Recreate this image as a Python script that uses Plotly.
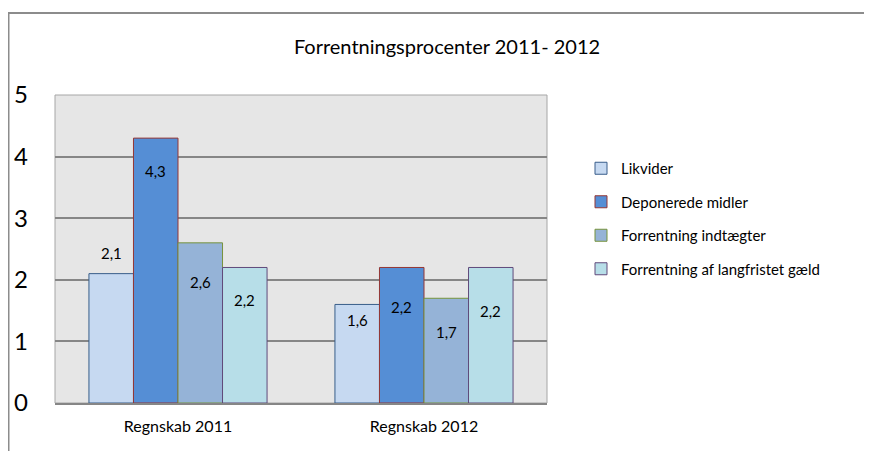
import plotly.graph_objects as go

categories = ["Regnskab 2011", "Regnskab 2012"]
series_names = ["Likvider", "Deponerede midler", "Forrentning indtægter", "Forrentning af langfristet gæld"]
likvider = [2.1, 1.6]
deponerede = [4.3, 2.2]
forrentning_indt = [2.6, 1.7]
langfristet = [2.2, 2.2]
series_values = [likvider, deponerede, forrentning_indt, langfristet]
y_ticks = [0, 1, 2, 3, 4, 5]

fills = ["#C6D9F1", "#558ED5", "#95B3D7", "#B7DEE8"]
borders = ["#385D8A", "#953735", "#77933C", "#604A7B"]
# label vertical pixel offsets relative to bar top (style)
label_shift = [[21, -16], [-33, -40], [-39, -34], [-33, -44]]

FONT = "Lato, Open Sans, sans-serif"
bargap = 0.276
n = len(series_values)
bw = (1 - bargap) / n

# figure is offset by the 8px page body margin; coordinates below are in figure pixels
W, H = 864, 443
L, R, T, B = 47, 325, 87, 48
PW, PH = W - L - R, H - T - B


def px(x):
    return (x - L) / PW


def py(y):
    return (H - B - y) / PH


fig = go.Figure()
for i, (name, vals) in enumerate(zip(series_names, series_values)):
    fig.add_trace(go.Bar(
        x=list(range(len(categories))), y=vals, name=name,
        marker=dict(color=fills[i], line=dict(color=borders[i], width=1)),
        legendgroup=name, hoverinfo="skip",
    ))

annotations = []
for i, vals in enumerate(series_values):
    for j, v in enumerate(vals):
        xpos = j - (1 - bargap) / 2 + bw * (i + 0.5)
        annotations.append(dict(
            x=xpos, y=v, xref="x", yref="y", text=f"{v:.1f}".replace(".", ","),
            showarrow=False, yshift=label_shift[i][j],
            font=dict(family=FONT, size=15, color="#000000"),
            xanchor="center", yanchor="middle",
        ))

fig.update_layout(
    width=W, height=H,
    margin=dict(l=L, r=R, t=T, b=B, autoexpand=False),
    paper_bgcolor="white", plot_bgcolor="#E6E6E6",
    barmode="group", bargap=bargap, bargroupgap=0,
    title=dict(text="Forrentningsprocenter 2011- 2012", x=439 / W, xanchor="center",
               y=1 - 39 / H, yanchor="middle",
               font=dict(family=FONT, size=20, color="#000000")),
    font=dict(family=FONT, color="#000000"),
    showlegend=True,
    legend=dict(x=px(573), xanchor="left", y=py(144), yanchor="top",
                font=dict(family=FONT, size=15, color="#000000"),
                tracegroupgap=11, traceorder="grouped", bgcolor="rgba(0,0,0,0)"),
    annotations=annotations,
    xaxis=dict(tickmode="array", tickvals=list(range(len(categories))), ticktext=categories,
               range=[-0.5, len(categories) - 0.5], showgrid=False,
               showline=True, linecolor="#868686", linewidth=2, mirror=False,
               ticks="", tickfont=dict(family=FONT, size=16, color="#000000"),
               ticklabelstandoff=8, zeroline=False, fixedrange=True, automargin=False),
    yaxis=dict(range=[0, 5], tickvals=y_ticks, showgrid=True, gridcolor="#868686", gridwidth=1.5,
               showline=False, ticks="", zeroline=False,
               tickfont=dict(family=FONT, size=24, color="#000000"),
               ticklabelstandoff=26, fixedrange=True, automargin=False),
    shapes=[
        dict(type="rect", xref="paper", yref="paper", x0=0, x1=1, y0=0, y1=1,
             line=dict(color="#A6A6A6", width=1), layer="below"),
        # outer frame: top and left
        dict(type="line", xref="paper", yref="paper", x0=px(0), x1=px(W + 5),
             y0=py(5), y1=py(5), line=dict(color="#8C8C8C", width=2)),
        dict(type="line", xref="paper", yref="paper", x0=px(0.5), x1=px(0.5),
             y0=py(5), y1=py(H + 5), line=dict(color="#8C8C8C", width=2)),
    ],
)

fig.write_html("out.html")
